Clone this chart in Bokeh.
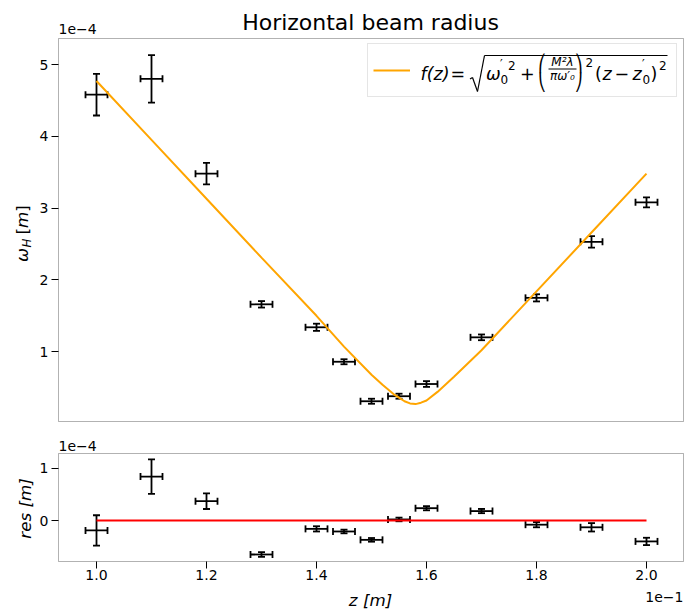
import numpy as np
from bokeh.plotting import figure
from bokeh.layouts import column
from bokeh.models import (ColumnDataSource, Whisker, TeeHead, Label, Legend, LegendItem,
                          FixedTicker, CustomJSTickFormatter, Range1d, Arrow, BoxAnnotation)
from bokeh.embed import file_html
from bokeh.resources import INLINE

# ---------------- data (z in units of 1e-1 m, w and residuals in units of 1e-4 m) ----------------
z_pos = [1.00, 1.10, 1.20, 1.30, 1.40, 1.45, 1.50, 1.55, 1.60, 1.70, 1.80, 1.90, 2.00]
z_err = [0.02, 0.02, 0.02, 0.02, 0.02, 0.02, 0.02, 0.02, 0.02, 0.02, 0.02, 0.02, 0.02]
w_val = [4.58, 4.80, 3.48, 1.66, 1.34, 0.86, 0.31, 0.38, 0.55, 1.20, 1.75, 2.53, 3.08]
w_err = [0.29, 0.33, 0.15, 0.045, 0.05, 0.035, 0.035, 0.035, 0.04, 0.04, 0.05, 0.08, 0.07]
res_val = [-0.19, 0.84, 0.37, -0.65, -0.16, -0.21, -0.37, 0.02, 0.235, 0.18, -0.08, -0.13, -0.40]

fit_z = [1.00, 1.10, 1.20, 1.30, 1.40, 1.45, 1.50, 1.52, 1.54, 1.55, 1.56, 1.57, 1.58, 1.59,
         1.60, 1.62, 1.65, 1.70, 1.80, 1.90, 2.00]
fit_w = [4.77, 3.95, 3.13, 2.31, 1.50, 1.07, 0.68, 0.54, 0.41, 0.36, 0.31, 0.28, 0.27, 0.29,
         0.32, 0.44, 0.65, 1.02, 1.84, 2.66, 3.48]

res_line_z = [1.0, 2.0]
res_line_v = [0.0, 0.0]

x_ticks = [1.0, 1.2, 1.4, 1.6, 1.8, 2.0]
top_y_ticks = [1, 2, 3, 4, 5]
bot_y_ticks = [0, 1]

title_text = "Horizontal beam radius"
# ------------------------------------------------------------------------------------------------

FONT = "DejaVu Sans"
W = 685
TOP_H = 437
BOT_H = 172
PAGE_H = TOP_H + BOT_H
BASE_SHIFT = 0.346   # label anchor sits this many em above the alphabetic baseline

# pixel calibration of the panels (page pixels)
X_PX_ONE, X_PX_PER = 96.0, 550.0
TOP_ZERO, TOP_PER = 423.0, 71.8
BOT_ZERO, BOT_PER = 520.0, 52.3
PANEL_L, PANEL_R = 58, 683
TOP_T, TOP_B = 38, 421
BOT_T, BOT_B = 453, 561


def xd(px):
    return 1.0 + (px - X_PX_ONE) / X_PX_PER


def ytop(py):
    return (TOP_ZERO - py) / TOP_PER


def ybot(py):
    return (BOT_ZERO - py) / BOT_PER


z = np.array(z_pos); ze = np.array(z_err)
w = np.array(w_val); we = np.array(w_err)
r = np.array(res_val)
src = ColumnDataSource(dict(z=z, zlo=z - ze, zhi=z + ze, w=w, wlo=w - we, whi=w + we,
                            r=r, rlo=r - we, rhi=r + we))

x_range = Range1d(xd(0), xd(W))


def make_fig(height, y_range):
    p = figure(width=W, height=height, x_range=x_range, y_range=y_range,
               output_backend="svg", toolbar_location=None, title=None,
               min_border=0, min_border_left=0, min_border_right=0,
               min_border_top=0, min_border_bottom=0)
    p.background_fill_color = "white"
    p.border_fill_color = "white"
    p.outline_line_color = None
    p.xgrid.visible = False
    p.ygrid.visible = False
    return p


def style_axis(ax, standoff):
    ax.axis_line_color = None
    ax.major_tick_line_color = "black"
    ax.major_tick_line_width = 1
    ax.major_tick_in = 0
    ax.major_tick_out = 7
    ax.minor_tick_line_color = None
    ax.major_label_text_font = FONT
    ax.major_label_text_font_size = "14px"
    ax.major_label_text_color = "black"
    ax.major_label_standoff = standoff


def add_errorbars(p, ycol):
    for base, lo, hi, dim in [("z", ycol + "lo", ycol + "hi", "height"),
                              (ycol, "zlo", "zhi", "width")]:
        p.add_layout(Whisker(source=src, base=base, lower=lo, upper=hi, dimension=dim,
                             line_color="black", line_width=1.8,
                             upper_head=TeeHead(size=7, line_width=1.8, line_color="black"),
                             lower_head=TeeHead(size=7, line_width=1.8, line_color="black")))


def label(p, text, sx, sy, size, fstyle="normal", align="left", rotated=False):
    # (sx, sy) is the wanted alphabetic baseline point in frame screen units
    if rotated:
        sx = sx - BASE_SHIFT * size
        angle = np.pi / 2
    else:
        sy = sy + BASE_SHIFT * size
        angle = 0.0
    p.add_layout(Label(x=sx, y=sy, x_units="screen", y_units="screen", text=text,
                       text_font=FONT, text_font_size=f"{size}px", text_font_style=fstyle,
                       text_align=align, text_baseline="alphabetic", text_color="black",
                       angle=angle, level="overlay"))


def seg(p, x0, y0, x1, y1, width=1.0):
    p.add_layout(Arrow(x_start=x0, y_start=y0, x_end=x1, y_end=y1, start_units="screen",
                       end_units="screen", start=None, end=None, line_color="black",
                       line_width=width, level="overlay"))


def T(px, py):  # page pixel -> frame screen units of top figure
    return px, TOP_H - py


def B(px, py):  # page pixel -> frame screen units of bottom figure
    return px, PAGE_H - py


# ---------------- top panel ----------------
p1 = make_fig(TOP_H, Range1d(ytop(TOP_H), ytop(0)))
p1.xaxis.visible = False
style_axis(p1.yaxis, 3)
p1.yaxis.fixed_location = xd(PANEL_L)
p1.yaxis.ticker = FixedTicker(ticks=top_y_ticks)
p1.yaxis.formatter = CustomJSTickFormatter(code="return tick.toFixed(0);")
p1.add_layout(BoxAnnotation(left=xd(PANEL_L), right=xd(PANEL_R), top=ytop(TOP_T),
                            bottom=ytop(TOP_B), fill_color=None, line_color="black",
                            line_width=1))

fit_r = p1.line(fit_z, fit_w, line_color="#FFA500", line_width=2)
add_errorbars(p1, "w")

lx, ly = T(367, 97)
leg = Legend(items=[LegendItem(label=" ", renderers=[fit_r])], location=(lx, ly),
             glyph_width=37, glyph_height=20, label_width=248, label_height=42,
             padding=5, label_standoff=13, spacing=0, margin=0,
             border_line_color="#cccccc", border_line_width=1,
             background_fill_color="white", background_fill_alpha=0.0,
             label_text_font_size="14px")
p1.add_layout(leg)

MF = 17.5
formula = [
    ("f(z)", 420, 79.5, MF, "italic"),
    ("=", 450, 79.5, MF, "normal"),
    ("ω", 485.5, 79.5, MF, "italic"),
    ("′", 499.5, 68, 12, "normal"),
    ("0", 500, 83.5, 12, "normal"),
    ("2", 507.5, 69, 12, "normal"),
    ("+", 519.5, 79.5, MF, "normal"),
    ("⎛", 537.5, 68.8, 16.5, "normal"),
    ("⎝", 537.5, 87.5, 16.5, "normal"),
    ("⎞", 574, 68.8, 16.5, "normal"),
    ("⎠", 574, 87.5, 16.5, "normal"),
    ("2", 585, 66, 12, "normal"),
    ("(", 594.5, 79.5, MF, "normal"),
    ("z", 602, 79.5, MF, "italic"),
    ("−", 614, 79.5, MF, "normal"),
    ("z", 632, 79.5, MF, "italic"),
    ("′", 641.5, 68, 12, "normal"),
    ("0", 642, 83.5, 12, "normal"),
    (")", 650, 79.5, MF, "normal"),
    ("2", 658.5, 69, 12, "normal"),
]
for t, px, py, sz, st in formula:
    label(p1, t, *T(px, py), sz, st)
for t, px, py in [("M²λ", 562, 66), ("πω′₀", 562, 80)]:
    label(p1, t, *T(px, py), 12, "italic", align="center")
for (x0, y0, x1, y1, lw) in [(469.5, 78.5, 472, 77, 1.2), (472, 77, 477, 91, 1.2),
                             (477, 91, 484, 55, 1.2), (484, 55, 667, 55, 1.2),
                             (548, 68.5, 576, 68.5, 1.0)]:
    seg(p1, *T(x0, y0), *T(x1, y1), lw)

label(p1, title_text, *T(370, 30), 22, align="center")
label(p1, "1e−4", *T(58, 33), 14)

# rotated y label: omega_H [m]  (baseline at x=27, text starts at y=261.5)
bx, by = T(27, 261.5)
for t, along, perp, sz, st in [("ω", 0, 0, 16.7, "italic"), ("H", 14.5, 3.5, 11.7, "italic"),
                               ("[", 27.5, 0, 16.7, "normal"), ("m", 34.0, 0, 16.7, "italic"),
                               ("]", 50.3, 0, 16.7, "normal")]:
    label(p1, t, bx + perp, by + along, sz, st, rotated=True)

# ---------------- residual panel ----------------
p2 = make_fig(BOT_H, Range1d(ybot(PAGE_H), ybot(TOP_H)))
style_axis(p2.xaxis, 1)
style_axis(p2.yaxis, 3)
p2.xaxis.fixed_location = ybot(BOT_B)
p2.yaxis.fixed_location = xd(PANEL_L)
p2.xaxis.ticker = FixedTicker(ticks=x_ticks)
p2.xaxis.formatter = CustomJSTickFormatter(code="return tick.toFixed(1);")
p2.yaxis.ticker = FixedTicker(ticks=bot_y_ticks)
p2.yaxis.formatter = CustomJSTickFormatter(code="return tick.toFixed(0);")
p2.add_layout(BoxAnnotation(left=xd(PANEL_L), right=xd(PANEL_R), top=ybot(BOT_T),
                            bottom=ybot(BOT_B), fill_color=None, line_color="black",
                            line_width=1))

p2.line(res_line_z, res_line_v, line_color="red", line_width=2)
add_errorbars(p2, "r")

label(p2, "1e−4", *B(58, 450), 14)
label(p2, "1e−1", *B(683, 601), 14, align="right")
label(p2, "z [m]", *B(370, 605), 16.7, "italic", align="center")
label(p2, "res [m]", *B(29.8, 508), 16.7, "italic", align="center", rotated=True)

layout = column(p1, p2)
open("out.html", "w").write(file_html(layout, INLINE))
